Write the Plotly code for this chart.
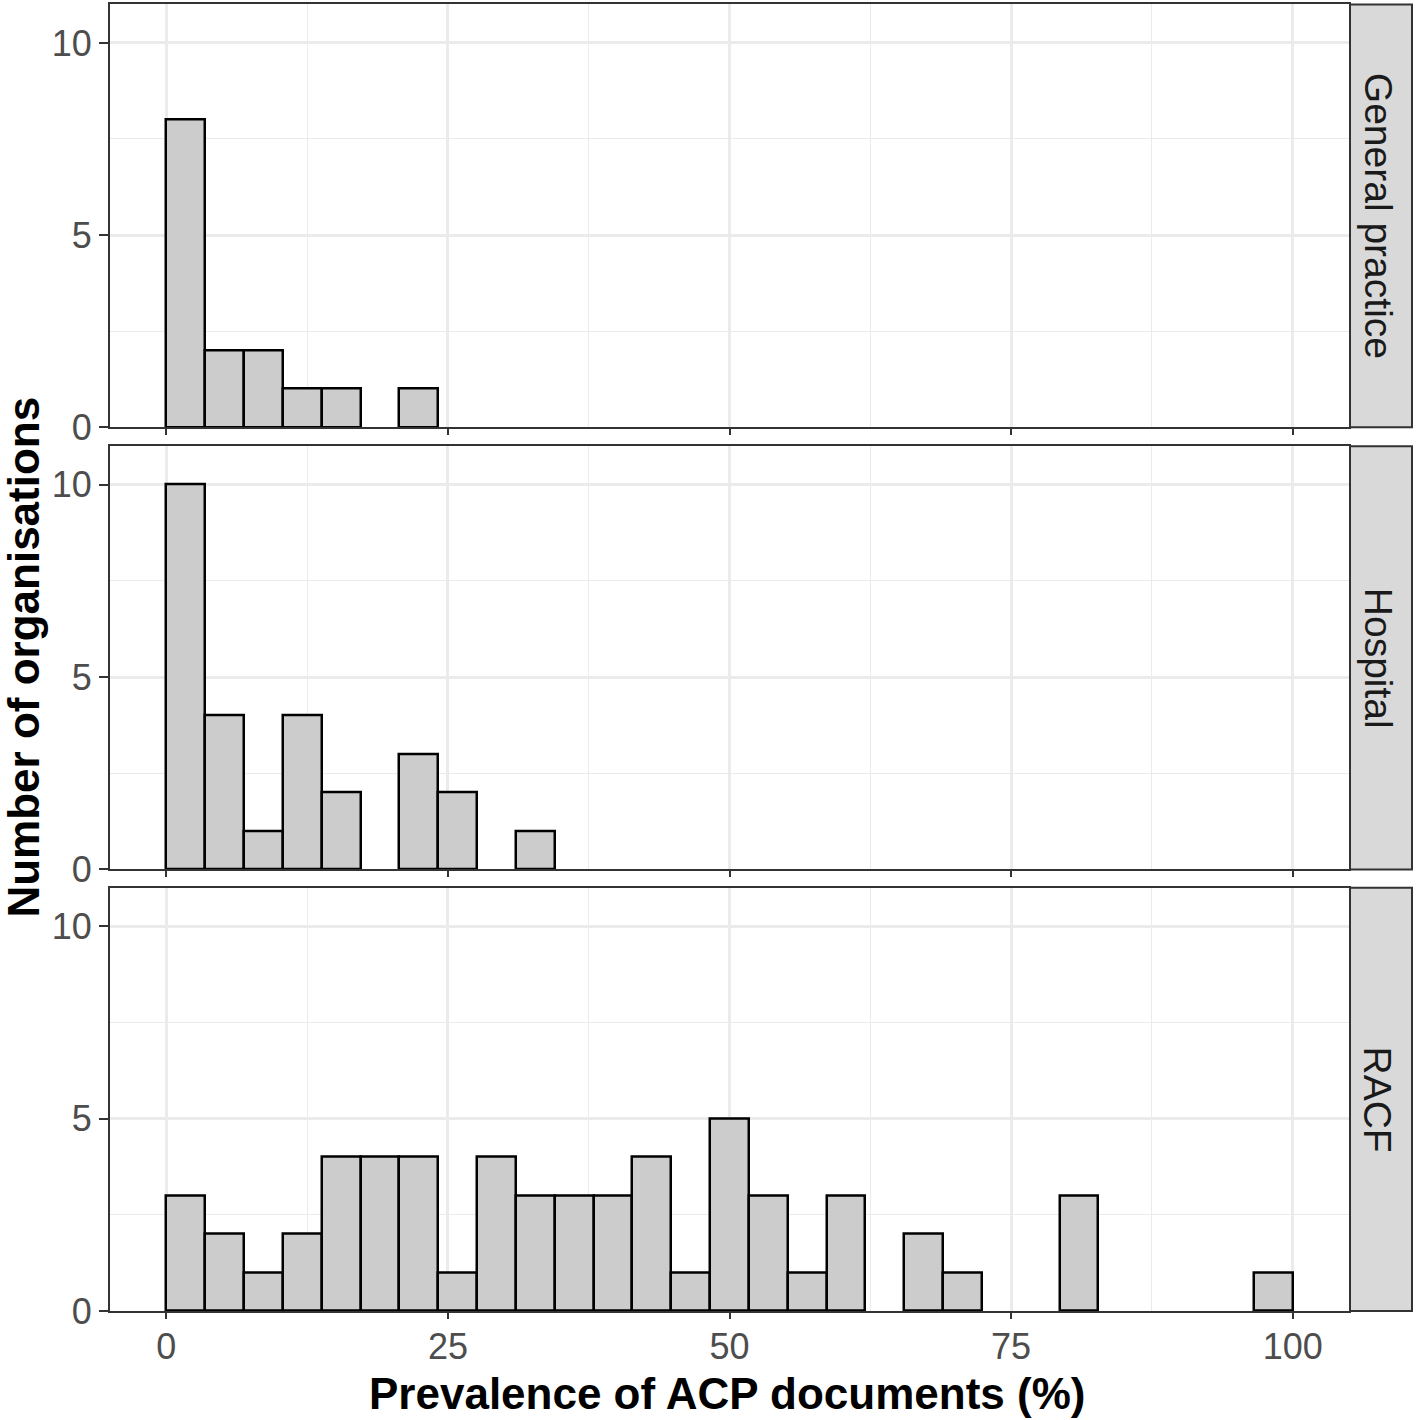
import numpy as np
import plotly.graph_objects as go

# ---- data (counts per bin; 29 bins spanning 0-100 %) ----
n_bins = 29
bin_lo, bin_hi = 0, 100
facets = ["General practice", "Hospital", "RACF"]
gp_counts = [8, 2, 2, 1, 1, 0, 1, 0, 0, 0, 0, 0, 0, 0, 0, 0, 0, 0, 0, 0, 0, 0, 0, 0, 0, 0, 0, 0, 0]
hosp_counts = [10, 4, 1, 4, 2, 0, 3, 2, 0, 1, 0, 0, 0, 0, 0, 0, 0, 0, 0, 0, 0, 0, 0, 0, 0, 0, 0, 0, 0]
racf_counts = [3, 2, 1, 2, 4, 4, 4, 1, 4, 3, 3, 3, 4, 1, 5, 3, 1, 3, 0, 2, 1, 0, 0, 3, 0, 0, 0, 0, 1]
x_ticks = [0, 25, 50, 75, 100]
y_ticks = [0, 5, 10]

edges = np.linspace(bin_lo, bin_hi, n_bins + 1)
centers = (edges[:-1] + edges[1:]) / 2
bw = edges[1] - edges[0]

W, H = 1418, 1440
REF_H = 1420  # layout positions are expressed as fractions of the reference height


def fx(px):
    return px / W


def fy(py):
    return 1 - py / REF_H


px_left, px_right = 110, 1349
panels_px = [(4.5, 427.5), (446.5, 870), (888.5, 1312)]

fig = go.Figure()
font_fam = "Liberation Sans, Arial, sans-serif"

for i, (name, counts) in enumerate(zip(facets, [gp_counts, hosp_counts, racf_counts])):
    idx = "" if i == 0 else str(i + 1)
    lw = [2.5 if c > 0 else 0 for c in counts]
    fig.add_trace(go.Bar(
        x=centers, y=counts, width=bw,
        marker=dict(color="#CCCCCC", line=dict(color="black", width=lw)),
        xaxis="x" + idx, yaxis="y" + idx, showlegend=False, hoverinfo="x+y",
    ))
    top, bot = panels_px[i]
    ydom = [fy(bot), fy(top)]
    xdom = [fx(px_left), fx(px_right)]
    fig.update_layout(**{
        "xaxis" + idx: dict(
            domain=xdom, range=[-5, 105], anchor="y" + idx,
            tickvals=x_ticks, showticklabels=(i == 2),
            ticks="outside", ticklen=6, tickwidth=2, tickcolor="#333333",
            ticklabelstandoff=-3,
            tickfont=dict(family=font_fam, size=36, color="#4D4D4D"),
            showgrid=True, gridcolor="#EBEBEB", gridwidth=2.5,
            minor=dict(showgrid=True, gridcolor="#EBEBEB", gridwidth=1.3, dtick=12.5, tick0=0),
            showline=True, mirror=True, linecolor="#333333", linewidth=2,
            zeroline=False, fixedrange=True,
        ),
        "yaxis" + idx: dict(
            domain=ydom, range=[0, 11], anchor="x" + idx,
            tickvals=y_ticks,
            ticks="outside", ticklen=9, tickwidth=2, tickcolor="#333333",
            tickfont=dict(family=font_fam, size=36, color="#4D4D4D"),
            showgrid=True, gridcolor="#EBEBEB", gridwidth=2.5,
            minor=dict(showgrid=True, gridcolor="#EBEBEB", gridwidth=1.3, dtick=2.5, tick0=0),
            showline=True, mirror=True, linecolor="#333333", linewidth=2,
            zeroline=False, fixedrange=True,
        ),
    })
    # strip
    fig.add_shape(type="rect", xref="paper", yref="paper",
                  x0=fx(1350), x1=fx(1412), y0=ydom[0], y1=ydom[1],
                  fillcolor="#D9D9D9", line=dict(color="#333333", width=2), layer="below")
    fig.add_annotation(text=name, xref="paper", yref="paper",
                       x=fx(1378), y=(ydom[0] + ydom[1]) / 2, showarrow=False,
                       textangle=90, font=dict(family=font_fam, size=39, color="#1A1A1A"),
                       xanchor="center", yanchor="middle")

fig.add_annotation(text="<b>Number of organisations</b>", xref="paper", yref="paper",
                   x=fx(24), y=fy(658), showarrow=False, textangle=-90,
                   font=dict(family=font_fam, size=44, color="black"),
                   xanchor="center", yanchor="middle")
fig.add_annotation(text="<b>Prevalence of ACP documents (%)</b>", xref="paper", yref="paper",
                   x=fx(727), y=fy(1394), showarrow=False,
                   font=dict(family=font_fam, size=44, color="black"),
                   xanchor="center", yanchor="middle")

fig.update_layout(width=W, height=H, autosize=False,
                  margin=dict(l=0, r=0, t=0, b=0),
                  paper_bgcolor="white", plot_bgcolor="white",
                  bargap=0)
fig.write_html(
    "out.html",
    config={"displayModeBar": False},
    post_script=(
        "document.documentElement.style.margin='0';"
        "document.body.style.margin='0';"
        "document.documentElement.style.overflow='hidden';"
        "document.body.style.overflow='hidden';"
        "var gd=document.getElementById('{plot_id}');"
        "gd.style.position='fixed';gd.style.left='0px';gd.style.top='0px';"
    ),
)
